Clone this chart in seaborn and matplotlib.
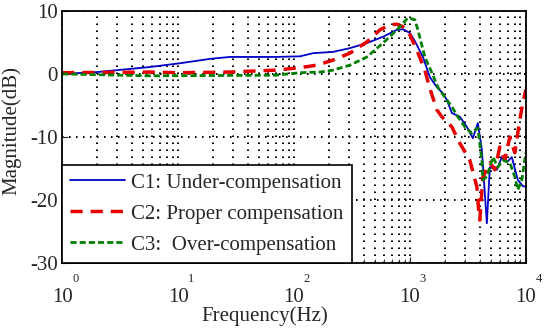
import matplotlib
matplotlib.use("Agg")
import matplotlib.pyplot as plt
import matplotlib.transforms as mtransforms
import seaborn as sns
import pandas as pd

# ---- data (frequency in Hz, magnitude in dB) ----
c1_freq = [1, 2, 5.7, 10.4, 19, 28, 69, 113, 146, 217, 304, 426, 585, 773, 871,
           1000, 1105, 1295, 1487, 1709, 1888, 2084, 2301, 2698, 3099, 3491,
           3857, 4176, 4613, 4897, 5623, 6209, 6856, 7570, 8531, 9419, 10000]
c1_mag = [0, 0.3, 1.1, 1.7, 2.4, 2.7, 2.7, 2.8, 3.3, 3.5, 4.1, 4.9, 5.9, 7.0, 7.1,
          6.5, 5.2, 2.7, -0.5, -2.1, -2.9, -4.1, -6.2, -6.8, -8.4, -10.2,
          -7.8, -12.0, -23.7, -14.8, -15.2, -13.2, -14.0, -13.2, -16.8, -17.8, -17.9]

c2_freq = [1, 5.7, 10.4, 28, 69, 113, 158, 217, 304, 426, 551, 672, 773, 871,
           1000, 1148, 1346, 1487, 1709, 1888, 2301, 2698, 3289, 3783, 3933,
           4010, 4256, 4897, 5408, 5967, 6587, 7272, 8035, 8877, 9419, 10000]
c2_mag = [0.2, 0.3, 0.2, 0.3, 0.6, 1.0, 1.4, 2.2, 3.3, 5.1, 7.0, 7.8, 7.9, 7.5,
          6.2, 3.8, 0.6, -2.3, -5.7, -6.8, -8.4, -11.0, -13.7, -17.9, -22.0,
          -23.2, -16.4, -14.1, -15.2, -11.6, -13.7, -10.0, -12.5, -7.3, -4.6, -2.5]

c3_freq = [1, 5.7, 69, 113, 168, 217, 304, 426, 585, 773, 961, 1105, 1172, 1346,
           1548, 1743, 2004, 2301, 2594, 2980, 3423, 3631, 3857, 4176, 4256,
           4613, 5200, 5741, 6339, 7272, 8035, 8531, 9247, 10000]
c3_mag = [0, -0.3, -0.2, 0.2, 0.3, 0.6, 1.4, 2.7, 4.9, 7.0, 8.9, 8.6, 7.0, 2.7,
          0.2, -2.1, -3.7, -5.2, -6.8, -8.4, -9.4, -8.9, -8.6, -13.7, -16.8,
          -16.3, -13.2, -14.8, -13.7, -14.1, -16.3, -18.4, -16.8, -12.5]

labels = ["C1: Under-compensation", "C2: Proper compensation", "C3:  Over-compensation"]
colors = ["#0000c8", "#e60000", "#007f00"]
x_ticks = [1, 10, 100, 1000, 10000]
x_exps = ["0", "1", "2", "3", "4"]
y_ticks = [-30, -20, -10, 0, 10]
y_ticklabels = ["-30", "-20", "-10", "0", "10"]

sns.set_style("ticks")
plt.rcParams['font.family'] = ['Liberation Serif', 'DejaVu Serif']
plt.rcParams['axes.unicode_minus'] = False

fig = plt.figure(figsize=(5.5, 3.32), dpi=100)
ax = fig.add_axes([0.113, 0.208, 0.843, 0.759])

styles = [dict(lw=1.3, ls="-"),
          dict(lw=2.5, ls=(0, (3.5, 2.3))),
          dict(lw=2.0, ls=(0, (2.2, 1.1)))]
series = [(c1_freq, c1_mag), (c2_freq, c2_mag), (c3_freq, c3_mag)]
for (f, m), lab, col, st in zip(series, labels, colors, styles):
    df = pd.DataFrame({"freq": f, "mag": m})
    sns.lineplot(data=df, x="freq", y="mag", ax=ax, color=col, label=lab,
                 sort=False, estimator=None, linewidth=st["lw"], linestyle=st["ls"])

ax.set_xscale("log")
ax.set_xlim(1, 10000)
ax.set_ylim(-30, 10)

# dotted grid, major + minor on x
ax.grid(True, which="both", axis="x", color="black", lw=1.4, ls=(0, (0.8, 2.8)))
ax.grid(True, which="major", axis="y", color="black", lw=1.4, ls=(0, (0.8, 2.8)))
ax.set_axisbelow(True)

for sp in ax.spines.values():
    sp.set_visible(True)
    sp.set_color("black")
    sp.set_linewidth(1.3)

ax.set_xticks(x_ticks)
ax.set_xticklabels(["10"] * len(x_ticks), fontsize=15)
ax.set_yticks(y_ticks)
ax.set_yticklabels(y_ticklabels, fontsize=15)
ax.tick_params(axis="x", which="major", direction="in", length=4, pad=18)
ax.tick_params(axis="x", which="minor", direction="in", length=3)
ax.tick_params(axis="y", direction="in", length=4, pad=3)

# exponents placed high above the "10" like the original
trans = mtransforms.blended_transform_factory(ax.transData, ax.transAxes)
offset = mtransforms.ScaledTranslation(13 / 100, 0, fig.dpi_scale_trans)
for t, e in zip(x_ticks, x_exps):
    ax.text(t, -0.065, e, transform=trans + offset, fontsize=9,
            ha="center", va="center")

ax.set_xlabel("Frequency(Hz)", fontsize=15)
ax.set_ylabel("Magnitude(dB)", fontsize=15)
ax.xaxis.set_label_coords(0.4375, -0.171)
ax.yaxis.set_label_coords(-0.088, 0.524)

leg = ax.legend(loc="lower left", bbox_to_anchor=(0, 0), borderaxespad=0,
                fontsize=15, frameon=True, fancybox=False, framealpha=1,
                edgecolor="black", handlelength=2.6, handletextpad=0.3,
                labelspacing=0.55, borderpad=0.4)
leg.get_frame().set_linewidth(1.2)

fig.savefig("out.png", dpi=100)
